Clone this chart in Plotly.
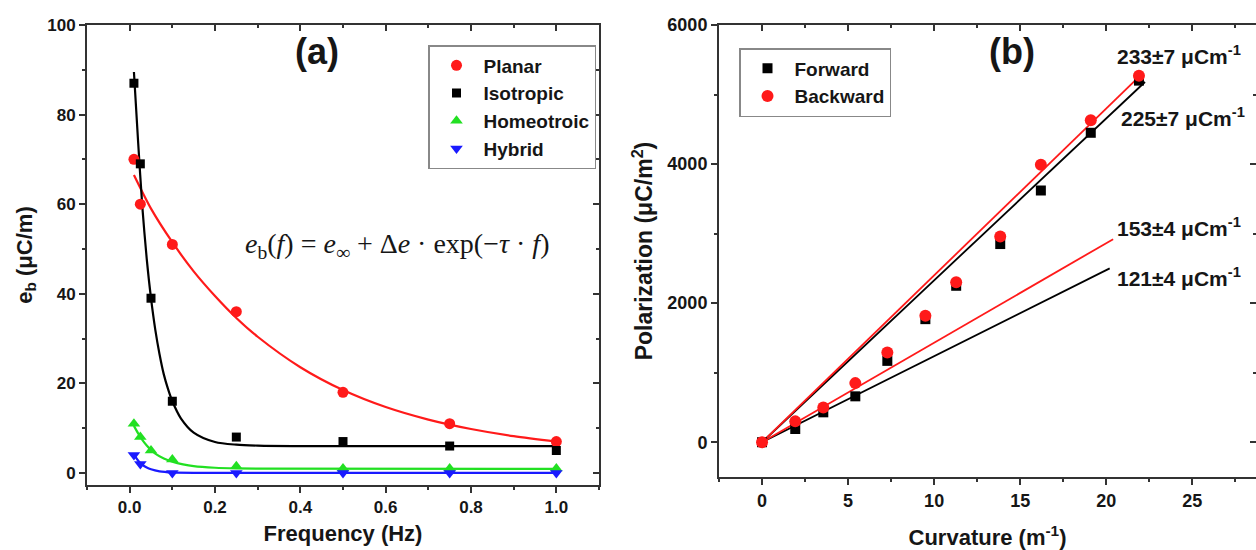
import plotly.graph_objects as go

# ---------------- Panel (a) data ----------------
freq = [0.01, 0.025, 0.05, 0.1, 0.25, 0.5, 0.75, 1.0]
planar_x = [0.01, 0.025, 0.1, 0.25, 0.5, 0.75, 1.0]
planar_y = [70, 60, 51, 36, 18, 11, 7]
isotropic_y = [87, 69, 39, 16, 8, 7, 6, 5]
homeo_x = [0.01, 0.025, 0.05, 0.1, 0.25, 0.5, 0.75, 1.0]
homeo_y = [11, 8, 5, 3, 1.5, 1, 1, 1]
hybrid_x = [0.01, 0.025, 0.1, 0.25, 0.5, 0.75, 1.0]
hybrid_y = [4, 2, 0, 0, 0, 0, 0]

# fitted curves
planar_fit_x = [0.01, 0.05, 0.1, 0.15, 0.2, 0.25, 0.3, 0.4, 0.5, 0.6, 0.7, 0.8, 0.9, 1.0]
planar_fit_y = [66.5, 59, 51.5, 45, 39.5, 34.6, 30.4, 23.6, 18.5, 14.7, 11.9, 9.8, 8.2, 7.0]
iso_fit_x = [0.01, 0.02, 0.03, 0.04, 0.05, 0.06, 0.07, 0.08, 0.09, 0.1, 0.12, 0.15, 0.2, 0.25, 0.3, 0.4, 1.0]
iso_fit_y = [89.5, 73.6, 59, 47.8, 39, 32, 26.5, 22, 18.7, 16, 12.2, 9, 6.9, 6.3, 6.1, 6.0, 6.0]
homeo_fit_x = [0.01, 0.02, 0.03, 0.04, 0.05, 0.06, 0.08, 0.1, 0.125, 0.15, 0.2, 0.25, 0.3, 1.0]
homeo_fit_y = [10.5, 8.8, 7.3, 6.1, 5.1, 4.3, 3.2, 2.5, 1.9, 1.5, 1.15, 1.0, 0.95, 0.9]
hybrid_fit_x = [0.01, 0.02, 0.03, 0.04, 0.05, 0.07, 0.1, 0.15, 1.0]
hybrid_fit_y = [4.2, 2.7, 1.8, 1.2, 0.8, 0.35, 0.1, 0.0, 0.0]

# ---------------- Panel (b) data ----------------
curv = [0, 1.93, 3.56, 5.42, 7.28, 9.49, 11.28, 13.84, 16.2, 19.1, 21.9]
forward = [0, 190, 430, 660, 1170, 1770, 2250, 2850, 3620, 4450, 5200]
backward = [0, 300, 500, 850, 1290, 1820, 2300, 2960, 3990, 4630, 5270]

steep_fwd_x = [0, 22.25]
steep_fwd_y = [0, 5180]
steep_back_x = [0, 22.0]
steep_back_y = [0, 5280]
low_fwd_x = [0, 20.2]
low_fwd_y = [0, 2500]
low_back_x = [0, 20.4]
low_back_y = [0, 2920]

slope_labels = ["233±7 μCm<sup>-1</sup>", "225±7 μCm<sup>-1</sup>",
                "153±4 μCm<sup>-1</sup>", "121±4 μCm<sup>-1</sup>"]

RED = "#ff1a1a"
GREEN = "#22e022"
BLUE = "#1a1aff"
BLACK = "#000000"
AX = "#333333"
TXT = "#161616"
FONT = "Liberation Sans"

fig = go.Figure()

# fit curves (a)
for fx, fy, c in [(planar_fit_x, planar_fit_y, RED), (iso_fit_x, iso_fit_y, BLACK),
                  (homeo_fit_x, homeo_fit_y, GREEN), (hybrid_fit_x, hybrid_fit_y, BLUE)]:
    fig.add_trace(go.Scatter(x=fx, y=fy, mode="lines", line=dict(color=c, width=2.2, shape="spline", smoothing=0.8),
                             showlegend=False, hoverinfo="skip", xaxis="x", yaxis="y"))

fig.add_trace(go.Scatter(x=planar_x, y=planar_y, mode="markers", name="Planar", legend="legend",
                         legendgroup="p", marker=dict(symbol="circle", size=11, color=RED), xaxis="x", yaxis="y"))
fig.add_trace(go.Scatter(x=freq, y=isotropic_y, mode="markers", name="Isotropic", legend="legend",
                         legendgroup="i", marker=dict(symbol="square", size=9, color=BLACK), xaxis="x", yaxis="y"))
fig.add_trace(go.Scatter(x=homeo_x, y=homeo_y, mode="markers", name="Homeotroic", legend="legend",
                         legendgroup="h", marker=dict(symbol="triangle-up", size=11, color=GREEN), xaxis="x", yaxis="y"))
fig.add_trace(go.Scatter(x=hybrid_x, y=hybrid_y, mode="markers", name="Hybrid", legend="legend",
                         legendgroup="y", marker=dict(symbol="triangle-down", size=11, color=BLUE), xaxis="x", yaxis="y"))

# fit lines (b)
for lx, ly, c in [(low_fwd_x, low_fwd_y, BLACK), (low_back_x, low_back_y, RED),
                  (steep_fwd_x, steep_fwd_y, BLACK), (steep_back_x, steep_back_y, RED)]:
    fig.add_trace(go.Scatter(x=lx, y=ly, mode="lines", line=dict(color=c, width=1.8),
                             showlegend=False, hoverinfo="skip", xaxis="x2", yaxis="y2"))

fig.add_trace(go.Scatter(x=curv, y=forward, mode="markers", name="Forward", legend="legend2",
                         legendgroup="f", marker=dict(symbol="square", size=10, color=BLACK), xaxis="x2", yaxis="y2"))
fig.add_trace(go.Scatter(x=curv, y=backward, mode="markers", name="Backward", legend="legend2",
                         legendgroup="b", marker=dict(symbol="circle", size=12, color=RED), xaxis="x2", yaxis="y2"))

# dummy traces for inside mirror tick axes
fig.add_trace(go.Scatter(x=[], y=[], xaxis="x3", yaxis="y3", showlegend=False, hoverinfo="skip"))
fig.add_trace(go.Scatter(x=[], y=[], xaxis="x4", yaxis="y4", showlegend=False, hoverinfo="skip"))

tickfont_a = dict(family=FONT, size=17, color=TXT, weight="bold")
tickfont_b = dict(family=FONT, size=18, color=TXT, weight="bold")
titlefont = dict(family=FONT, size=22, color=TXT, weight="bold")
titlefont_b = dict(family=FONT, size=23, color=TXT, weight="bold")

dom_ax = [87 / 1256, 599 / 1256]
dom_ay = [1 - 485 / 550, 1 - 25 / 550]
dom_bx = [719 / 1256, 1.0]
dom_by = [1 - 477 / 550, 1 - 25 / 550]

xa_range = [-0.1, 1.1]
ya_range = [-2.7, 100]
xb_range = [-2.5, 28.7]
yb_range = [-500, 6000]

common = dict(showgrid=False, zeroline=False, showline=True, linecolor=AX, linewidth=2,
              ticks="outside", ticklen=6, tickwidth=1.6, tickcolor=AX, mirror=True, automargin=False)
inside = dict(showgrid=False, zeroline=False, showline=False, ticks="inside", ticklen=6,
              tickwidth=1.6, tickcolor=AX, showticklabels=False, automargin=False)

fig.update_layout(
    width=1256, height=550, margin=dict(l=0, r=0, t=0, b=0, pad=0, autoexpand=False),
    paper_bgcolor="white", plot_bgcolor="white",
    xaxis=dict(domain=dom_ax, anchor="y", range=xa_range, tickmode="linear", tick0=0, dtick=0.2,
               tickformat=".1f", tickfont=tickfont_a,
               minor=dict(ticks="outside", dtick=0.1, tick0=0, ticklen=3, tickwidth=1.6, tickcolor=AX),
               title=dict(text="Frequency (Hz)", font=titlefont, standoff=9), **common),
    yaxis=dict(domain=dom_ay, anchor="x", range=ya_range, tickmode="linear", tick0=0, dtick=20,
               tickfont=tickfont_a,
               minor=dict(ticks="outside", dtick=10, tick0=0, ticklen=3, tickwidth=1.6, tickcolor=AX),
               title=dict(text="e<sub>b</sub> (μC/m)", font=titlefont, standoff=9), **common),
    xaxis3=dict(overlaying="x", anchor="y3", side="top", range=xa_range, tickmode="linear", tick0=0, dtick=0.2,
                minor=dict(ticks="inside", dtick=0.1, tick0=0, ticklen=3, tickwidth=1.6, tickcolor=AX), **inside),
    yaxis3=dict(overlaying="y", anchor="x3", side="right", range=ya_range, tickmode="linear", tick0=0, dtick=20,
                minor=dict(ticks="inside", dtick=10, tick0=0, ticklen=3, tickwidth=1.6, tickcolor=AX), **inside),
    xaxis2=dict(domain=dom_bx, anchor="y2", range=xb_range, tickmode="linear", tick0=0, dtick=5,
                tickfont=tickfont_b,
                minor=dict(ticks="outside", dtick=2.5, tick0=0, ticklen=3, tickwidth=1.6, tickcolor=AX),
                title=dict(text="Curvature (m<sup>-1</sup>)", font=titlefont, standoff=21), **common),
    yaxis2=dict(domain=dom_by, anchor="x2", range=yb_range, tickmode="linear", tick0=0, dtick=2000,
                tickfont=tickfont_b,
                minor=dict(ticks="outside", dtick=1000, tick0=0, ticklen=3, tickwidth=1.6, tickcolor=AX),
                title=dict(text="Polarization (μC/m<sup>2</sup>)", font=titlefont_b, standoff=8), **common),
    xaxis4=dict(overlaying="x2", anchor="y4", side="top", range=xb_range, tickmode="linear", tick0=0, dtick=5,
                minor=dict(ticks="inside", dtick=2.5, tick0=0, ticklen=3, tickwidth=1.6, tickcolor=AX), **inside),
    yaxis4=dict(overlaying="y2", anchor="x4", side="right", range=yb_range, tickmode="linear", tick0=0, dtick=2000,
                minor=dict(ticks="inside", dtick=1000, tick0=0, ticklen=3, tickwidth=1.6, tickcolor=AX), **inside),
    legend=dict(x=428 / 1256, y=1 - 45 / 550, xanchor="left", yanchor="top",
                bordercolor="#888888", borderwidth=1.5, bgcolor="white", itemwidth=44,
                font=dict(family=FONT, size=19, color=TXT, weight="bold"),
                traceorder="grouped", tracegroupgap=0),
    legend2=dict(x=739 / 1256, y=1 - 48 / 550, xanchor="left", yanchor="top",
                 bordercolor="#888888", borderwidth=1.5, bgcolor="white", itemwidth=44,
                 font=dict(family=FONT, size=19, color=TXT, weight="bold"),
                 traceorder="grouped", tracegroupgap=0),
    showlegend=True,
)

ann = [
    dict(text="(a)", x=317 / 1256, y=1 - 51 / 550, font=dict(family=FONT, size=36, color=TXT, weight="bold")),
    dict(text="(b)", x=1012 / 1256, y=1 - 52 / 550, font=dict(family=FONT, size=36, color=TXT, weight="bold")),
    dict(text="<i>e</i><sub>b</sub>(<i>f</i>) = <i>e</i><sub>∞</sub> + Δ<i>e</i> · exp(−<i>τ</i> · <i>f</i>)",
         x=397 / 1256, y=1 - 245 / 550, font=dict(family="Liberation Serif", size=28, color=TXT)),
]
for t, (lx, ly) in zip(slope_labels, [(1115, 55), (1119, 117), (1115, 227), (1115, 277)]):
    ann.append(dict(text=t, x=lx / 1256, y=1 - ly / 550, xanchor="left",
                    font=dict(family=FONT, size=21, color=TXT, weight="bold")))
for a in ann:
    a.setdefault("xanchor", "center")
    a.update(xref="paper", yref="paper", yanchor="middle", showarrow=False)
fig.update_layout(annotations=ann)

fig.write_html("out.html")
